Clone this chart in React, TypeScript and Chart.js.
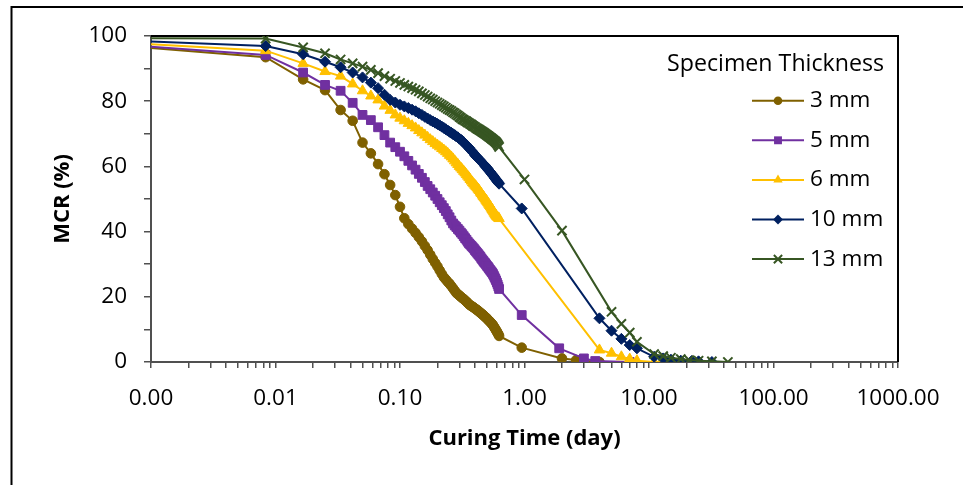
import React, { useEffect, useRef } from 'react';
import { Chart, registerables } from 'chart.js';

Chart.register(...registerables);

const FONT = "'Open Sans', 'DejaVu Sans', sans-serif";

const legendTitle = 'Specimen Thickness';
const xAxisTitle = 'Curing Time (day)';
const yAxisTitle = 'MCR (%)';
const seriesLabels = ['3 mm', '5 mm', '6 mm', '10 mm', '13 mm'];
const seriesColors = ['#7F6000', '#7030A0', '#FFC000', '#002060', '#375623'];
const seriesMarkers = ['circle', 'rect', 'triangle', 'rectRot', 'crossRot'];
const markerRadius = [4.8, 6.2, 6.0, 5.5, 6.5];

const xDecades = [0.001, 0.01, 0.1, 1, 10, 100, 1000];
const xTickLabels = ['0.00', '0.01', '0.10', '1.00', '10.00', '100.00', '1000.00'];
const yLabelledTicks = [0, 20, 40, 60, 80, 100];

// t = 0 is shown at the left end of the logarithmic axis
const startDay = 0.001;

// readings every 12 minutes during the first 15 hours
const elapsedMinutes = [
  0, 12, 24, 36, 48, 60, 72, 84, 96, 108, 120, 132, 144, 156, 168, 180, 192, 204, 216, 228,
  240, 252, 264, 276, 288, 300, 312, 324, 336, 348, 360, 372, 384, 396, 408, 420, 432, 444, 456, 468,
  480, 492, 504, 516, 528, 540, 552, 564, 576, 588, 600, 612, 624, 636, 648, 660, 672, 684, 696, 708,
  720, 732, 744, 756, 768, 780, 792, 804, 816, 828, 840, 852, 864, 876, 888, 900,
];

const mcr3mm = [
  96.3, 93.5, 86.7, 83.4, 77.3, 74.0, 67.3, 64.0, 60.7, 57.6, 54.3, 51.2, 47.6, 44.1, 42.3, 40.9, 39.6, 38.3, 37.0, 35.6,
  34.3, 32.9, 31.6, 30.4, 29.3, 28.1, 27.0, 26.0, 25.3, 24.6, 24.0, 23.3, 22.6, 21.9, 21.2, 20.8, 20.4, 20.0, 19.6, 19.3,
  18.9, 18.5, 18.1, 17.7, 17.4, 17.2, 16.9, 16.7, 16.4, 16.2, 15.9, 15.7, 15.4, 15.1, 14.9, 14.6, 14.4, 14.1, 13.8, 13.6,
  13.3, 13.0, 12.7, 12.5, 12.2, 11.9, 11.6, 11.3, 10.9, 10.5, 10.1, 9.7, 9.3, 8.9, 8.5, 8.0,
];
const mcr5mm = [
  96.7, 94.2, 88.8, 85.0, 83.2, 79.5, 75.8, 74.2, 72.0, 69.6, 67.3, 65.9, 64.5, 63.1, 61.7, 60.3, 59.0, 57.7, 56.5, 55.2,
  54.0, 53.0, 52.0, 51.0, 50.0, 49.0, 48.1, 47.2, 46.3, 45.3, 44.4, 43.4, 42.5, 41.9, 41.4, 40.8, 40.3, 39.7, 39.2, 38.6,
  38.0, 37.5, 36.9, 36.4, 36.0, 35.6, 35.2, 34.8, 34.3, 33.9, 33.5, 33.1, 32.7, 32.3, 31.8, 31.4, 31.0, 30.6, 30.3, 29.9,
  29.5, 29.2, 28.8, 28.4, 28.1, 27.7, 27.4, 27.0, 26.5, 26.0, 25.5, 25.0, 24.4, 23.8, 23.1, 22.4,
];
const mcr6mm = [
  97.5, 95.5, 91.6, 89.1, 87.7, 85.3, 83.2, 81.6, 80.4, 78.5, 77.2, 75.8, 74.8, 74.0, 73.2, 72.5, 71.8, 71.0, 70.3, 69.6,
  68.9, 68.2, 67.6, 67.0, 66.5, 66.0, 65.5, 65.0, 64.5, 64.0, 63.4, 62.9, 62.3, 61.7, 61.1, 60.6, 60.0, 59.5, 59.0, 58.5,
  58.0, 57.5, 57.0, 56.5, 56.0, 55.5, 55.0, 54.6, 54.2, 53.8, 53.4, 53.0, 52.6, 52.1, 51.7, 51.2, 50.8, 50.4, 50.0, 49.6,
  49.2, 48.8, 48.4, 48.0, 47.6, 47.2, 46.8, 46.4, 46.0, 45.6, 45.2, 44.9, 44.6, 44.4, 44.2, 44.0,
];
const mcr10mm = [
  98.3, 96.9, 94.4, 92.1, 90.4, 88.8, 87.3, 85.7, 84.0, 82.0, 80.4, 79.6, 78.9, 78.4, 77.9, 77.4, 76.9, 76.3, 75.8, 75.2,
  74.7, 74.2, 73.8, 73.4, 73.0, 72.6, 72.2, 71.8, 71.4, 71.0, 70.6, 70.3, 69.9, 69.6, 69.2, 68.9, 68.5, 68.2, 67.8, 67.4,
  66.9, 66.5, 66.1, 65.7, 65.2, 64.8, 64.4, 64.0, 63.5, 63.1, 62.8, 62.4, 62.1, 61.8, 61.4, 61.1, 60.8, 60.5, 60.1, 59.8,
  59.5, 59.2, 58.8, 58.5, 58.2, 57.8, 57.5, 57.2, 56.9, 56.5, 56.2, 55.9, 55.6, 55.3, 55.0, 54.7,
];
const mcr13mm = [
  99.3, 99.2, 96.5, 94.7, 92.8, 91.6, 90.6, 89.6, 88.6, 87.7, 86.9, 86.2, 85.6, 85.0, 84.5, 84.0, 83.5, 83.0, 82.4, 81.9,
  81.4, 80.9, 80.5, 80.0, 79.6, 79.2, 78.8, 78.4, 78.0, 77.6, 77.3, 77.0, 76.6, 76.3, 75.9, 75.6, 75.2, 74.9, 74.5, 74.3,
  74.0, 73.8, 73.5, 73.3, 73.0, 72.8, 72.5, 72.3, 72.1, 71.8, 71.6, 71.4, 71.2, 71.0, 70.8, 70.6, 70.4, 70.2, 70.0, 69.8,
  69.6, 69.4, 69.2, 69.0, 68.8, 68.6, 68.4, 68.2, 68.0, 67.8, 67.6, 67.4, 67.1, 66.8, 66.4, 66.0,
];

// later readings (days)
const tailDays3mm = [0.95, 2, 2.6, 4];
const tailMcr3mm = [4.4, 1.1, 0.6, 0.0];
const tailDays5mm = [0.95, 1.9, 3, 3.7, 7];
const tailMcr5mm = [14.4, 4.2, 1.1, 0.3, 0.0];
const tailDays6mm = [4, 5, 6, 7, 8, 11, 15];
const tailMcr6mm = [3.7, 2.7, 1.6, 0.9, 0.4, 0.0, 0.0];
const tailDays10mm = [0.95, 4, 5, 6, 7, 8, 11, 13, 15, 18, 22, 25, 32];
const tailMcr10mm = [47.1, 13.4, 9.6, 7.1, 5.2, 4.2, 1.6, 1.1, 0.7, 0.4, 0.3, 0.2, 0.0];
const tailDays13mm = [1, 2, 5, 6, 7, 8, 11, 13, 15, 18, 21, 25, 32, 43];
const tailMcr13mm = [56.0, 40.3, 15.4, 11.7, 9.0, 6.2, 2.4, 1.8, 1.3, 0.9, 0.6, 0.4, 0.2, 0.0];

const denseSeries = [mcr3mm, mcr5mm, mcr6mm, mcr10mm, mcr13mm];
const tailDays = [tailDays3mm, tailDays5mm, tailDays6mm, tailDays10mm, tailDays13mm];
const tailValues = [tailMcr3mm, tailMcr5mm, tailMcr6mm, tailMcr10mm, tailMcr13mm];

function buildPoints(i: number) {
  const pts = elapsedMinutes.map((m, k) => ({ x: m === 0 ? startDay : m / 1440, y: denseSeries[i][k] }));
  tailDays[i].forEach((d, k) => pts.push({ x: d, y: tailValues[i][k] }));
  return pts;
}

function drawMarker(ctx: CanvasRenderingContext2D, style: string, x: number, y: number, r: number, color: string) {
  ctx.save();
  ctx.fillStyle = color;
  ctx.strokeStyle = color;
  ctx.lineWidth = 1;
  ctx.beginPath();
  if (style === 'circle') {
    ctx.arc(x, y, r, 0, Math.PI * 2);
    ctx.fill();
  } else if (style === 'rect') {
    const s = r * Math.SQRT1_2;
    ctx.rect(x - s, y - s, 2 * s, 2 * s);
    ctx.fill();
  } else if (style === 'triangle') {
    ctx.moveTo(x, y - r);
    ctx.lineTo(x + r * 0.866, y + r * 0.5);
    ctx.lineTo(x - r * 0.866, y + r * 0.5);
    ctx.closePath();
    ctx.fill();
  } else if (style === 'rectRot') {
    ctx.moveTo(x, y - r);
    ctx.lineTo(x + r, y);
    ctx.lineTo(x, y + r);
    ctx.lineTo(x - r, y);
    ctx.closePath();
    ctx.fill();
  } else {
    const d = r * Math.SQRT1_2;
    ctx.lineWidth = 2;
    ctx.moveTo(x - d, y - d);
    ctx.lineTo(x + d, y + d);
    ctx.moveTo(x + d, y - d);
    ctx.lineTo(x - d, y + d);
    ctx.stroke();
  }
  ctx.restore();
}

const decorPlugin = {
  id: 'decor',
  beforeDraw(chart: any) {
    const { ctx, width, height } = chart;
    ctx.save();
    ctx.fillStyle = '#ffffff';
    ctx.fillRect(0, 0, width, height);
    ctx.restore();
  },
  beforeDatasetsDraw(chart: any) {
    const { ctx, chartArea: a } = chart;
    ctx.save();
    ctx.strokeStyle = '#000000';
    ctx.lineWidth = 2;
    ctx.beginPath();
    ctx.moveTo(a.left, a.top);
    ctx.lineTo(a.right, a.top);
    ctx.lineTo(a.right, a.bottom);
    ctx.stroke();
    ctx.restore();
  },
  afterDraw(chart: any) {
    const { ctx } = chart;
    ctx.save();
    // outer frame
    ctx.strokeStyle = '#000000';
    ctx.lineWidth = 2;
    ctx.beginPath();
    ctx.moveTo(11.5, 485);
    ctx.lineTo(11.5, 7);
    ctx.lineTo(963, 7);
    ctx.stroke();

    // legend
    ctx.fillStyle = '#000000';
    ctx.textBaseline = 'middle';
    ctx.textAlign = 'left';
    ctx.font = `23.2px ${FONT}`;
    ctx.fillText(legendTitle, 667, 64);
    ctx.font = `22.5px ${FONT}`;
    seriesLabels.forEach((label, i) => {
      const y = 100.7 + i * 39.6;
      ctx.strokeStyle = seriesColors[i];
      ctx.lineWidth = 2;
      ctx.beginPath();
      ctx.moveTo(752, y);
      ctx.lineTo(804, y);
      ctx.stroke();
      drawMarker(ctx, seriesMarkers[i], 778, y, markerRadius[i] * 0.9, seriesColors[i]);
      ctx.fillStyle = '#000000';
      ctx.fillText(label, 810, y);
    });
    ctx.restore();
  },
};

export default function App() {
  const canvasRef = useRef<HTMLCanvasElement | null>(null);

  useEffect(() => {
    const canvas = canvasRef.current;
    if (!canvas) return;
    const datasets = seriesLabels.map((label, i) => ({
      label,
      data: buildPoints(i),
      borderColor: seriesColors[i],
      backgroundColor: seriesColors[i],
      borderWidth: 2,
      pointStyle: seriesMarkers[i] as any,
      pointRadius: (c: any) => (c.dataIndex === 0 ? 0 : markerRadius[i]),
      pointBackgroundColor: seriesColors[i],
      pointBorderColor: seriesColors[i],
      pointBorderWidth: i === 4 ? 2 : 1,
      tension: 0,
      order: seriesLabels.length - i,
    }));

    const chart = new Chart(canvas, {
      type: 'line',
      data: { datasets },
      plugins: [decorPlugin],
      options: {
        animation: false,
        responsive: false,
        devicePixelRatio: 1,
        layout: { padding: { left: 0, top: 36, right: 65, bottom: 0 } },
        plugins: { legend: { display: false }, tooltip: { enabled: false } },
        scales: {
          x: {
            type: 'logarithmic',
            min: 0.001,
            max: 1000,
            afterBuildTicks: (scale: any) => {
              const ticks: any[] = [];
              xDecades.forEach((d, j) => {
                ticks.push({ value: d, major: true });
                if (j < xDecades.length - 1) {
                  for (let m = 2; m <= 9; m++) ticks.push({ value: d * m, major: false });
                }
              });
              scale.ticks = ticks;
            },
            afterFit: (scale: any) => {
              scale.height = 123;
            },
            ticks: {
              autoSkip: false,
              maxRotation: 0,
              minRotation: 0,
              padding: 17.5,
              color: '#000000',
              font: { family: FONT, size: 22.5 },
              callback: (value: any) => {
                const idx = xDecades.findIndex((d) => Math.abs(d - Number(value)) / d < 1e-6);
                return idx >= 0 ? xTickLabels[idx] : '';
              },
            },
            grid: {
              display: true,
              drawOnChartArea: false,
              drawTicks: true,
              tickLength: 6,
              color: '#505050',
              tickColor: '#505050',
              lineWidth: 1.5,
            },
            border: { display: true, color: '#505050', width: 2 },
            title: {
              display: true,
              text: xAxisTitle,
              color: '#000000',
              font: { family: FONT, size: 22, weight: 'bold' },
              padding: { top: 0, bottom: 33 },
            },
          },
          y: {
            type: 'linear',
            min: 0,
            max: 100,
            afterFit: (scale: any) => {
              scale.width = 151;
            },
            ticks: {
              stepSize: 10,
              padding: 17,
              color: '#000000',
              font: { family: FONT, size: 22.5 },
              callback: (value: any) => (yLabelledTicks.includes(Number(value)) ? String(value) : ''),
            },
            grid: {
              display: true,
              drawOnChartArea: false,
              drawTicks: true,
              tickLength: 7,
              color: '#505050',
              tickColor: '#505050',
              lineWidth: 1.5,
            },
            border: { display: true, color: '#505050', width: 2 },
            title: {
              display: true,
              text: yAxisTitle,
              color: '#000000',
              font: { family: FONT, size: 22, weight: 'bold' },
              padding: { top: 50, bottom: 0 },
            },
          },
        },
      } as any,
    });
    return () => chart.destroy();
  }, []);

  return (
    <div style={{ position: 'absolute', left: 0, top: 0, width: 963, height: 485, background: '#fff' }}>
      <canvas ref={canvasRef} width={963} height={485} style={{ display: 'block' }} />
    </div>
  );
}
